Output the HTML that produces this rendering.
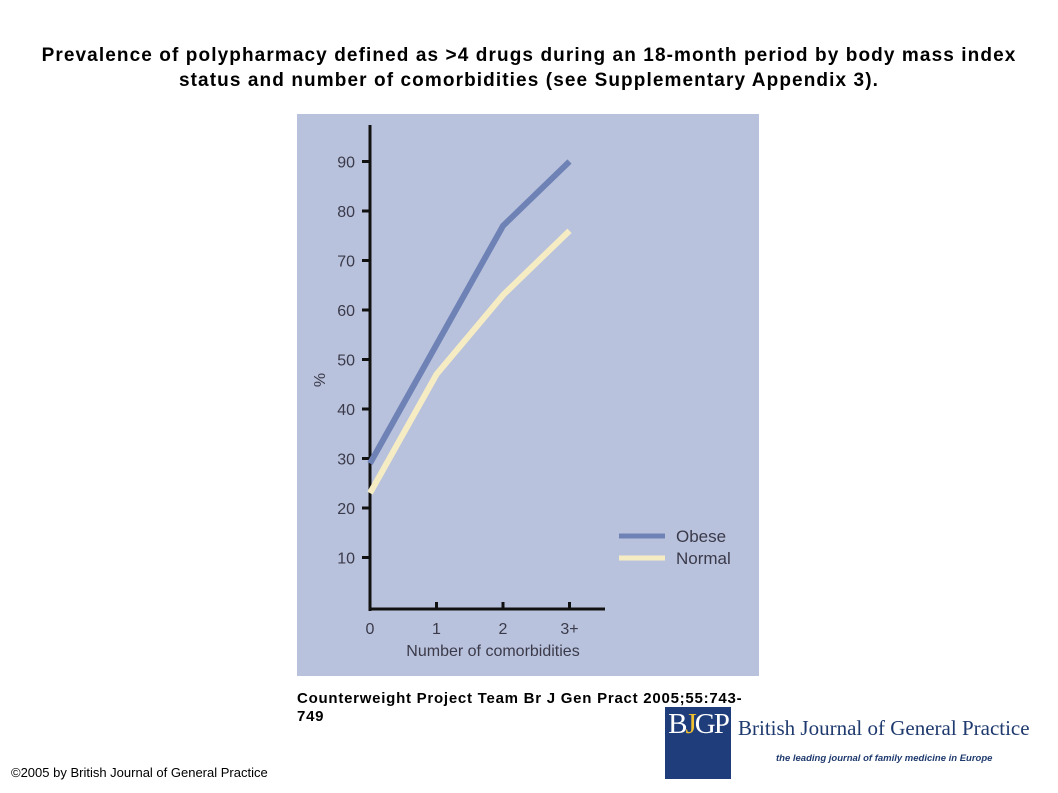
<!DOCTYPE html>
<html><head><meta charset="utf-8">
<style>
body{margin:0;width:1058px;height:793px;background:#fff;position:relative;overflow:hidden;font-family:"Liberation Sans",Arial,sans-serif;}
.t{position:absolute;}
</style></head><body>
<div class="t" style="left:0;top:43px;width:1058px;text-align:center;font-weight:bold;font-size:19px;letter-spacing:1.1px;line-height:25px;color:#000">Prevalence of polypharmacy defined as &gt;4 drugs during an 18-month period by body mass index<br>status and number of comorbidities (see Supplementary Appendix 3).</div>
<svg class="t" style="left:0;top:0" width="1058" height="793">
<rect x="297" y="114" width="462" height="562" fill="#b9c2dc"/>
<g id="axes"></g><g id="series"></g>
<g>
<line x1="619" y1="536" x2="665" y2="536" stroke="#6f82b6" stroke-width="5"/>
<text x="676" y="542" font-size="17" fill="#3a3a4a">Obese</text>
<line x1="619" y1="558" x2="665" y2="558" stroke="#f6ecc4" stroke-width="5"/>
<text x="676" y="564" font-size="17" fill="#3a3a4a">Normal</text>
</g>
</svg>
<div class="t" style="left:297px;top:690px;font-size:15px;letter-spacing:0.75px;font-weight:bold;line-height:18px">Counterweight Project Team Br J Gen Pract 2005;55:743-<br>749</div>
<div class="t" style="left:11px;top:765px;font-size:13px">©2005 by British Journal of General Practice</div>
<div class="t" style="left:665px;top:707px;width:66px;height:72px;background:#1f3d7a;color:#fff;font-family:'Liberation Serif',serif;font-size:29px;line-height:34px;text-align:center;letter-spacing:-2px">B<span style="color:#f0c030">J</span>GP</div>
<div class="t" style="left:738px;top:716px;font-family:'Liberation Serif',serif;font-size:21px;color:#1f3a6e">British Journal of General Practice</div>
<div class="t" style="left:776px;top:753px;font-size:9.5px;font-style:italic;font-weight:bold;color:#1f3a6e">the leading journal of family medicine in Europe</div>
<script>
const categories=["0","1","2","3+"];
const obese=[29,53,77,90];
const normal=[23,47,63,76];
const yTicks=[10,20,30,40,50,60,70,80,90];
const NS="http://www.w3.org/2000/svg";
const x=i=>370+i*66.5;
const y=v=>607-v*4.95;
const axes=document.getElementById('axes'),series=document.getElementById('series');
function mk(tag,a,p){const e=document.createElementNS(NS,tag);for(const k in a)e.setAttribute(k,a[k]);p.appendChild(e);return e;}
let e=mk('line',{x1:370,y1:125,x2:370,y2:611,stroke:'#111','stroke-width':3},axes);


e=mk('line',{x1:369,y1:609,x2:605,y2:609,stroke:'#111','stroke-width':3},axes);


yTicks.forEach(v=>{
 let t=mk('line',{x1:362,y1:y(v),x2:370,y2:y(v),stroke:'#111','stroke-width':3},axes);
 
 
 let l=mk('text',{x:355,y:y(v)+6,'text-anchor':'end','font-size':16,fill:'#3a3a4a'},axes);l.textContent=v;
 
 
});
categories.forEach((c,i)=>{
 if(i>0){let t=mk('line',{x1:x(i),y1:609,x2:x(i),y2:602,stroke:'#111','stroke-width':3},axes);
 
 }
 let l=mk('text',{x:x(i),y:634,'text-anchor':'middle','font-size':16,fill:'#3a3a4a'},axes);l.textContent=c;
 
 
});
let yt=mk('text',{x:0,y:0,'font-size':16,fill:'#3a3a4a',transform:'translate(325,380) rotate(-90)','text-anchor':'middle'},axes);yt.textContent='%';


let xt=mk('text',{x:493,y:656,'font-size':16,fill:'#3a3a4a','text-anchor':'middle'},axes);xt.textContent='Number of comorbidities';


function line(d,col,name){
 let p=mk('polyline',{points:d.map((v,i)=>x(i)+','+y(v)).join(' '),fill:'none',stroke:col,'stroke-width':6},series);
 
 
}
line(normal,'#f6ecc4','normal-line');
line(obese,'#6f82b6','obese-line');
</script>
</body></html>
